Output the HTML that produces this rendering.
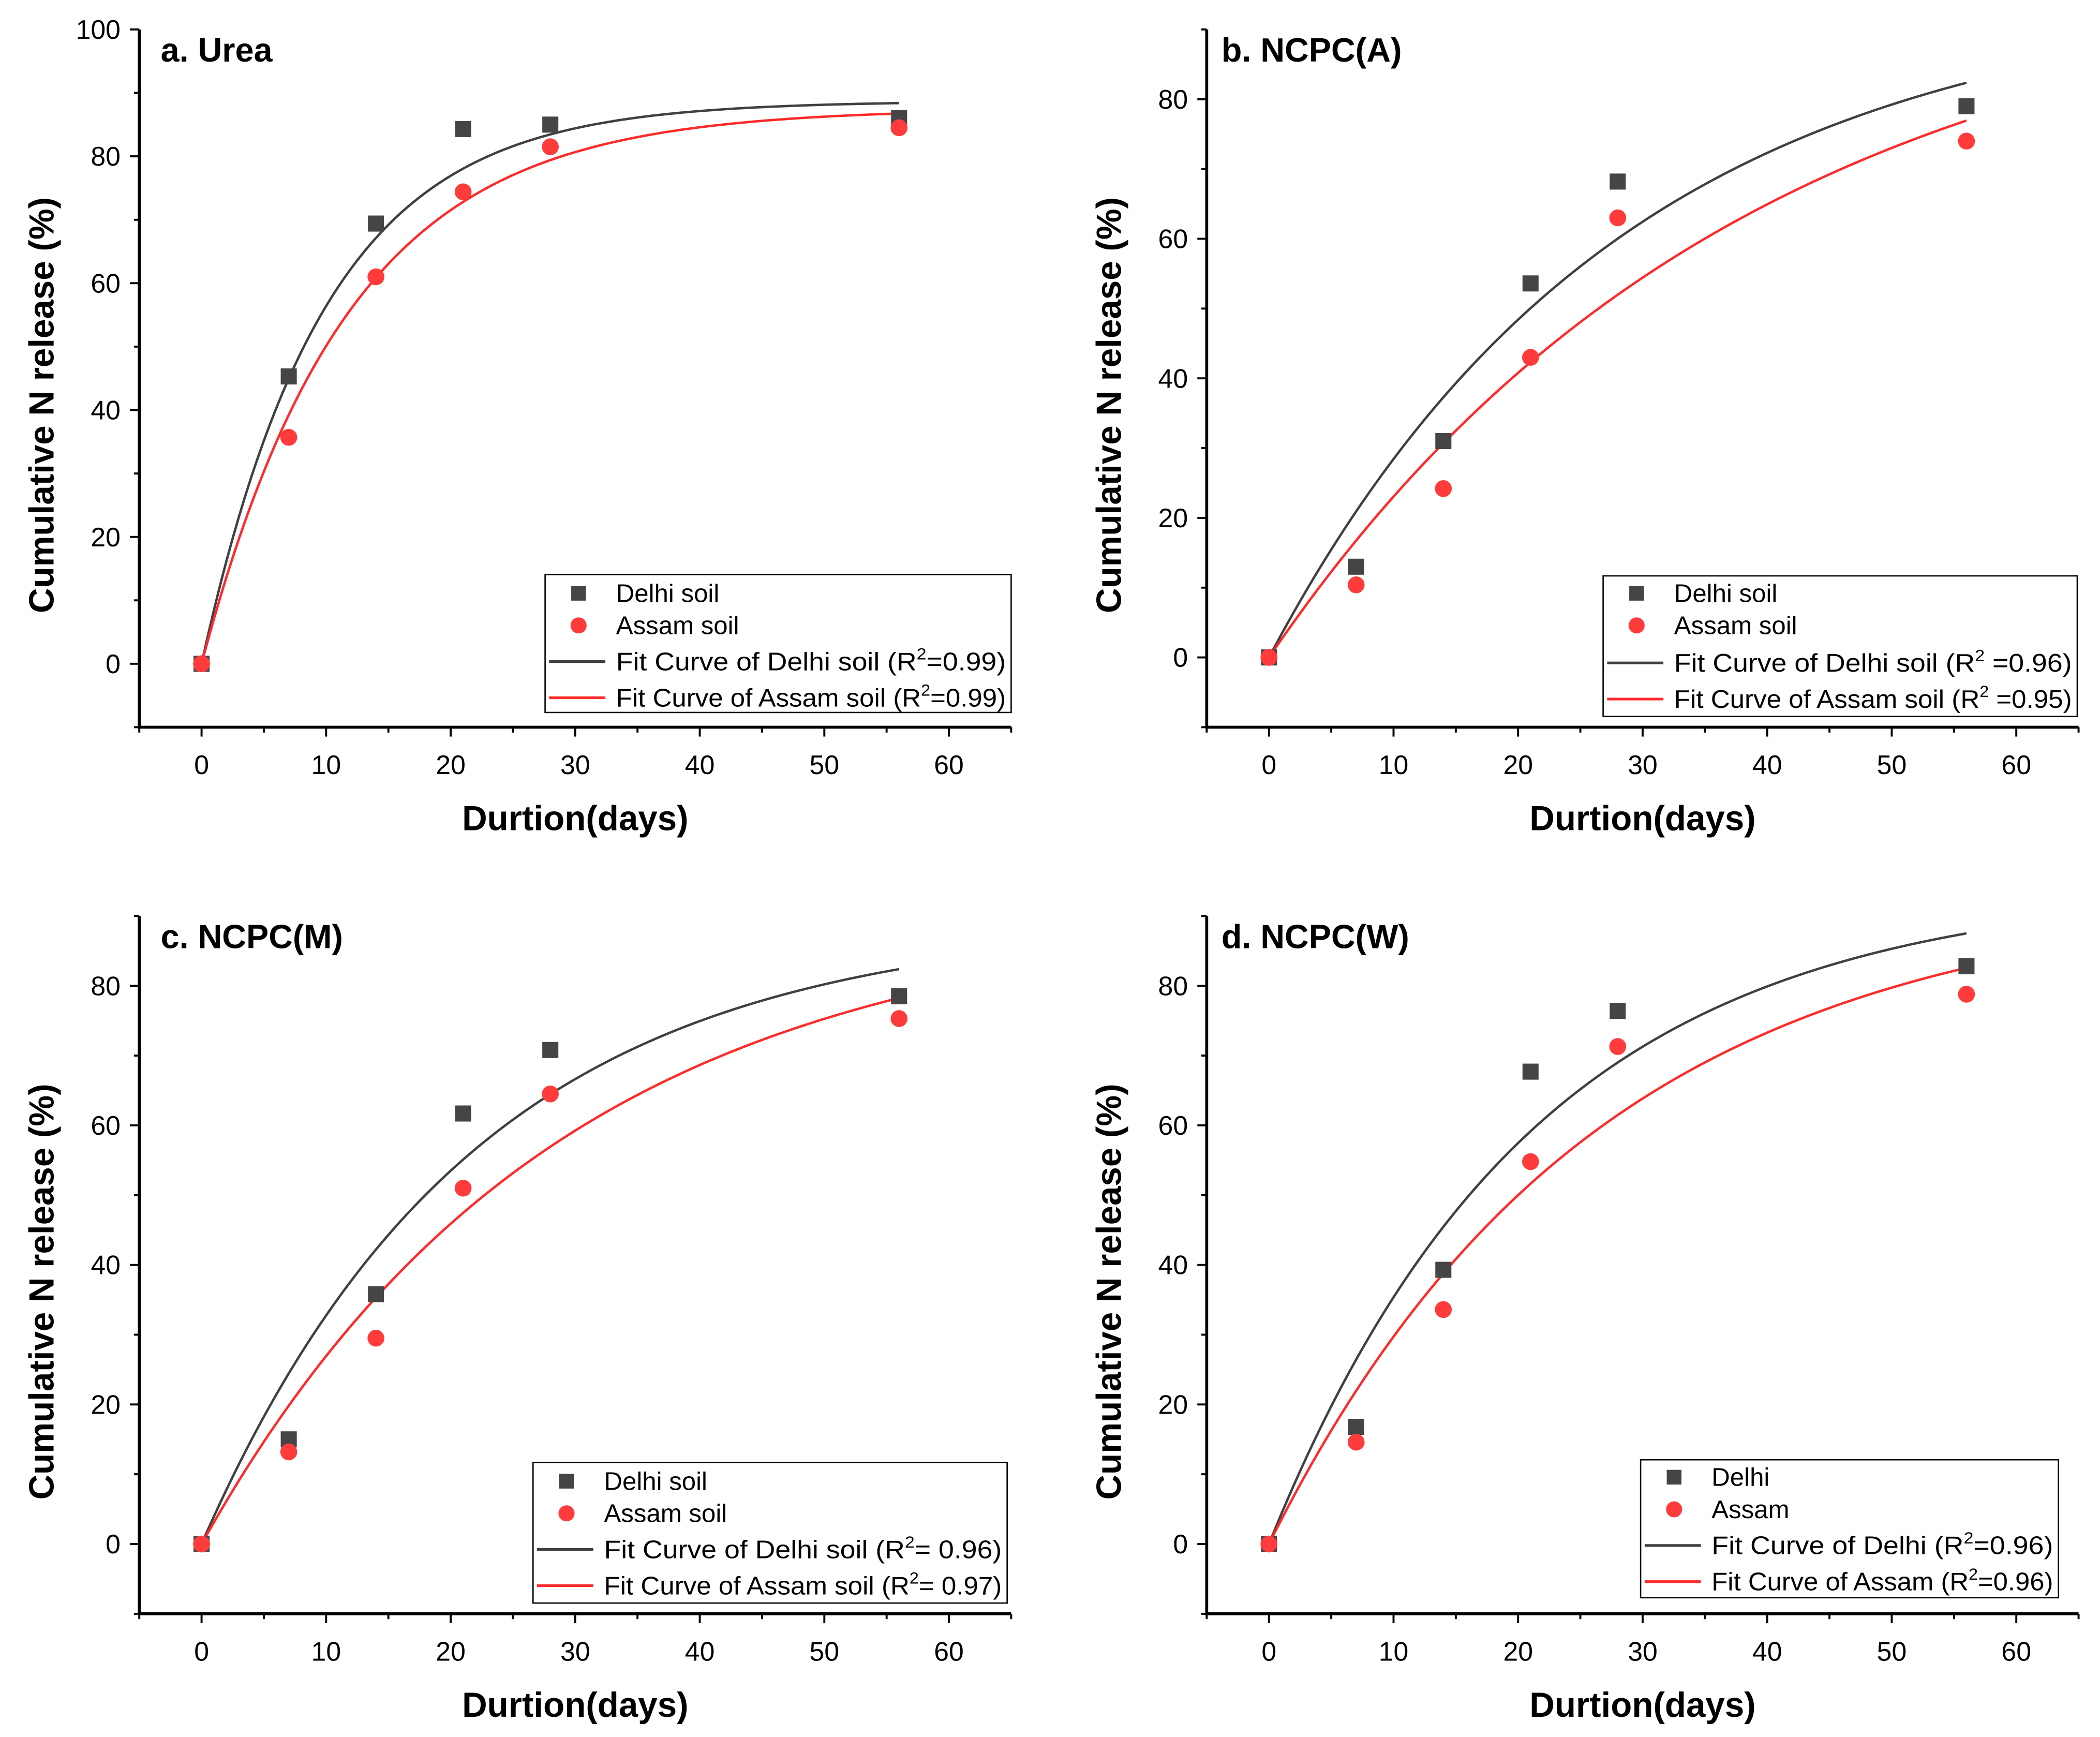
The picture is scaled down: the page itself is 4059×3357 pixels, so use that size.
<!DOCTYPE html>
<html><head><meta charset="utf-8"><style>
html,body{margin:0;padding:0;background:#fff}
svg{display:block}
text{font-family:"Liberation Sans",Arial,sans-serif;fill:#000}
</style></head><body>
<svg id="fig" width="4059" height="3357" viewBox="0 0 1568 1297" preserveAspectRatio="none" xmlns="http://www.w3.org/2000/svg"></svg>
<script>
const days = [0, 7, 14, 21, 28, 56];
const titles = ["a. Urea", "b. NCPC(A)", "c. NCPC(M)", "d. NCPC(W)"];
const delhiA = [0, 45.3, 69.4, 84.3, 85.0, 86.0];
const assamA = [0, 35.7, 61.0, 74.4, 81.5, 84.5];
const delhiB = [0, 13.0, 31.0, 53.6, 68.2, 79.0];
const assamB = [0, 10.4, 24.2, 43.0, 63.0, 74.0];
const delhiC = [0, 15.0, 35.8, 61.7, 70.8, 78.5];
const assamC = [0, 13.2, 29.5, 51.0, 64.5, 75.3];
const delhiD = [0, 16.8, 39.3, 67.7, 76.4, 82.8];
const assamD = [0, 14.6, 33.6, 54.8, 71.3, 78.8];
// fitted model y = A(1-exp(-k t)) params [A,k]
const fitDelhi = [[88.7, 0.101], [95.6, 0.0353], [89.3, 0.0457], [94.3, 0.047]];
const fitAssam = [[87.5, 0.085], [100, 0.0262], [91.0, 0.0351], [93.6, 0.0382]];
const xTicks = [0, 10, 20, 30, 40, 50, 60];
const yTicksA = [0, 20, 40, 60, 80, 100];
const yTicksB = [0, 20, 40, 60, 80];
const legendDelhi = ["Delhi soil", "Delhi soil", "Delhi soil", "Delhi"];
const legendAssam = ["Assam soil", "Assam soil", "Assam soil", "Assam"];
const legendFitD = ["=0.99)", " =0.96)", "= 0.96)", "=0.96)"];
const legendFitA = ["=0.99)", " =0.95)", "= 0.97)", "=0.96)"];

const NS = "http://www.w3.org/2000/svg";
const svg = document.getElementById('fig');
function mk(tag, attrs, parent) {
  const e = document.createElementNS(NS, tag);
  for (const k in attrs) e.setAttribute(k, attrs[k]);
  (parent || svg).appendChild(e);
  return e;
}
const panels = [
  {l:104, r:755, t:22, b:543, ymin:-10, ymax:100, yt:yTicksA, d:delhiA, a:assamA, leg:[407,429,348,103], ly:[443,467,494,521]},
  {l:901, r:1552, t:22, b:543, ymin:-10, ymax:90, yt:yTicksB, d:delhiB, a:assamB, leg:[1197,430,354,105], ly:[443,467,495,522]},
  {l:104, r:755, t:684, b:1205, ymin:-10, ymax:90, yt:yTicksB, d:delhiC, a:assamC, leg:[398,1092,354,105], ly:[1106,1130,1157,1184]},
  {l:901, r:1552, t:684, b:1205, ymin:-10, ymax:90, yt:yTicksB, d:delhiD, a:assamD, leg:[1225,1090,312,103], ly:[1103,1127,1154,1181]}
];
const names = ['urea','ncpc-a','ncpc-m','ncpc-w'];
panels.forEach((p, i) => {
  const g = mk('g', {});
  
  
  const X = v => p.l + (v + 5) / 70 * (p.r - p.l);
  const Y = v => p.b - (v - p.ymin) / (p.ymax - p.ymin) * (p.b - p.t);
  const ax = mk('path', {d:`M${p.l},${p.t}V${p.b}H${p.r}`, fill:'none', stroke:'#000', 'stroke-width':2.2}, g);
  
  
  for (let v = -5; v <= 65; v += 5) {
    const major = v % 10 === 0;
    mk('line', {x1:X(v), x2:X(v), y1:p.b, y2:p.b + (major ? 7 : 4), stroke:'#000', 'stroke-width':1.5}, g);
  }
  xTicks.forEach(v => {
    const t = mk('text', {x:X(v), y:p.b + 35, 'font-size':20, 'text-anchor':'middle'}, g);
    t.textContent = v;
    
    
  });
  for (let v = p.ymin; v <= p.ymax; v += 10) {
    const major = v % 20 === 0;
    mk('line', {x1:p.l, x2:p.l - (major ? 7 : 4), y1:Y(v), y2:Y(v), stroke:'#000', 'stroke-width':1.5}, g);
  }
  p.yt.forEach(v => {
    const t = mk('text', {x:p.l - 14, y:Y(v) + 7, 'font-size':20, 'text-anchor':'end'}, g);
    t.textContent = v;
    
    
  });
  const xt = mk('text', {x:(p.l + p.r) / 2, y:p.b + 77, 'font-size':26, 'font-weight':'bold', 'text-anchor':'middle'}, g);
  xt.textContent = 'Durtion(days)';
  
  
  const cy = (p.t + p.b) / 2 + 20;
  const yt = mk('text', {x:p.l - 64, y:cy, 'font-size':26, 'font-weight':'bold', 'text-anchor':'middle', transform:`rotate(-90 ${p.l - 64} ${cy})`}, g);
  yt.textContent = 'Cumulative N release (%)';
  
  
  const tt = mk('text', {x:p.l + (i % 2 ? 11 : 16), y:p.t + 24, 'font-size':25, 'font-weight':'bold'}, g);
  tt.textContent = titles[i];
  
  
  [[fitDelhi[i], '#404040', 'fit-curve-delhi'], [fitAssam[i], '#ff2a2a', 'fit-curve-assam']].forEach(([f, c, n]) => {
    let d = '';
    for (let s = 0; s <= 112; s++) {
      const t = s * 0.5, v = f[0] * (1 - Math.exp(-f[1] * t));
      d += (s ? 'L' : 'M') + X(t).toFixed(2) + ',' + Y(v).toFixed(2);
    }
    const pl = mk('path', {d, fill:'none', stroke:c, 'stroke-width':1.8}, g);
    
    
  });
  days.forEach((t, j) => {
    const r = mk('rect', {x:X(t) - 6, y:Y(p.d[j]) - 6, width:12, height:12, fill:'#454545'}, g);
    
    
  });
  days.forEach((t, j) => {
    const c = mk('circle', {cx:X(t), cy:Y(p.a[j]), r:6.3, fill:'#ff3b3b'}, g);
    
    
  });
  const L = p.leg;
  const lg = mk('g', {}, g);
  
  
  mk('rect', {x:L[0], y:L[1], width:L[2], height:L[3], fill:'#fff', stroke:'#000', 'stroke-width':1}, lg);
  const mx = L[0] + 25, tx = L[0] + 53;
  mk('rect', {x:mx - 5.5, y:p.ly[0] - 5.5, width:11, height:11, fill:'#454545'}, lg);
  mk('circle', {cx:mx, cy:p.ly[1], r:6, fill:'#ff3b3b'}, lg);
  mk('line', {x1:L[0] + 3, x2:L[0] + 45, y1:p.ly[2], y2:p.ly[2], stroke:'#404040', 'stroke-width':2}, lg);
  mk('line', {x1:L[0] + 3, x2:L[0] + 45, y1:p.ly[3], y2:p.ly[3], stroke:'#ff2a2a', 'stroke-width':2}, lg);
  const fitW = L[2] - 57;
  const labs = [[legendDelhi[i]], [legendAssam[i]], ['Fit Curve of ' + legendDelhi[i] + ' (R', legendFitD[i]], ['Fit Curve of ' + legendAssam[i] + ' (R', legendFitA[i]]];
  labs.forEach((s, j) => {
    const e = mk('text', {x:tx, y:p.ly[j] + 6.5, 'font-size':19}, lg);
    
    
    if (s.length === 1) { e.textContent = s[0]; return; }
    e.setAttribute('textLength', fitW);
    e.setAttribute('lengthAdjust', 'spacingAndGlyphs');
    const a = mk('tspan', {}, e); a.textContent = s[0];
    const b = mk('tspan', {dy:-8, 'font-size':12}, e); b.textContent = '2';
    const c = mk('tspan', {dy:8}, e); c.textContent = s[1];
  });
});
</script>
</body></html>
